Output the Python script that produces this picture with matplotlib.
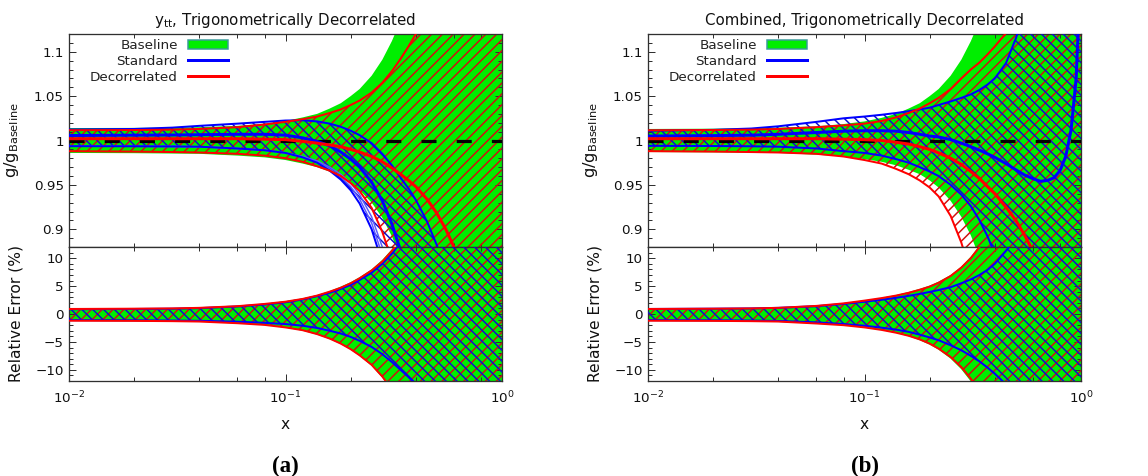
import matplotlib
matplotlib.use("Agg")
import matplotlib.pyplot as plt
from matplotlib.patches import Patch
from matplotlib.lines import Line2D
from matplotlib.ticker import LogLocator, MultipleLocator, FixedLocator, FixedFormatter, NullFormatter

DPI = 130
PX = 72.0 / DPI  # points per pixel

# ---------------- data ----------------
x = [0.01, 0.02, 0.03, 0.04, 0.06, 0.08, 0.1,
     0.12, 0.14, 0.16, 0.18, 0.2, 0.22, 0.25, 0.28, 0.31, 0.34, 0.37, 0.4,
     0.45, 0.5, 0.55, 0.6, 0.65, 0.7, 0.75, 0.8, 0.85, 0.9, 0.95, 1.0]

# ---- panel (a) top: g / g_Baseline ----
base_hi_a = [1.014, 1.0142, 1.0145, 1.015, 1.0165, 1.019, 1.022,
             1.026, 1.030, 1.036, 1.042, 1.05, 1.058, 1.073, 1.091, 1.112, 1.135, 1.16, 1.19,
             1.24, 1.3, 1.36, 1.42, 1.48, 1.54, 1.6, 1.66, 1.72, 1.78, 1.84, 1.9]
base_lo_a = [0.986, 0.9857, 0.9853, 0.985, 0.983, 0.981, 0.978,
             0.974, 0.97, 0.965, 0.959, 0.952, 0.944, 0.93, 0.913, 0.892, 0.868, 0.84, 0.81,
             0.76, 0.7, 0.64, 0.58, 0.52, 0.46, 0.4, 0.34, 0.28, 0.22, 0.16, 0.1]
dec_hi_a = [1.0116, 1.0118, 1.0122, 1.013, 1.015, 1.018, 1.021,
            1.024, 1.027, 1.031, 1.035, 1.04, 1.045, 1.054, 1.065, 1.078, 1.092, 1.106, 1.12,
            1.145, 1.17, 1.2, 1.23, 1.26, 1.29, 1.32, 1.35, 1.38, 1.41, 1.44, 1.47]
dec_c_a = [1.002, 1.002, 1.002, 1.002, 1.002, 1.0015, 1.001,
           0.999, 0.997, 0.995, 0.993, 0.99, 0.987, 0.982, 0.976, 0.969, 0.962, 0.955, 0.948,
           0.934, 0.918, 0.9, 0.88, 0.86, 0.84, 0.82, 0.8, 0.78, 0.76, 0.74, 0.72]
dec_lo_a = [0.988, 0.9875, 0.987, 0.9865, 0.985, 0.983, 0.98,
            0.976, 0.971, 0.966, 0.96, 0.952, 0.943, 0.924, 0.897, 0.865, 0.83, 0.79, 0.75,
            0.68, 0.61, 0.54, 0.47, 0.4, 0.33, 0.26, 0.19, 0.12, 0.05, -0.02, -0.09]
std_hi_a = [1.0124, 1.013, 1.0145, 1.0165, 1.019, 1.021, 1.0225,
            1.0228, 1.0215, 1.019, 1.0155, 1.011, 1.006, 0.997, 0.985, 0.972, 0.958, 0.946, 0.933,
            0.909, 0.882, 0.852, 0.82, 0.785, 0.75, 0.715, 0.68, 0.645, 0.61, 0.575, 0.54]
std_c_a = [1.0056, 1.006, 1.0062, 1.0065, 1.007, 1.007, 1.006,
           1.003, 0.999, 0.994, 0.987, 0.979, 0.97, 0.953, 0.932, 0.906, 0.876, 0.843, 0.81,
           0.75, 0.69, 0.63, 0.57, 0.51, 0.45, 0.39, 0.33, 0.27, 0.21, 0.15, 0.09]
std_lo_a = [0.9936, 0.9935, 0.9933, 0.993, 0.991, 0.989, 0.986,
            0.981, 0.975, 0.966, 0.956, 0.944, 0.929, 0.9, 0.862, 0.818, 0.77, 0.72, 0.67,
            0.59, 0.51, 0.43, 0.35, 0.27, 0.19, 0.11, 0.03, -0.05, -0.13, -0.21, -0.29]
std_m1_a = [0.9936, 0.9935, 0.9933, 0.993, 0.991, 0.989, 0.986,
            0.981, 0.976, 0.968, 0.959, 0.948, 0.934, 0.907, 0.871, 0.83, 0.785, 0.735, 0.685,
            0.6, 0.52, 0.44, 0.36, 0.28, 0.2, 0.12, 0.04, -0.04, -0.12, -0.2, -0.28]
std_m2_a = [0.9936, 0.9935, 0.9933, 0.993, 0.991, 0.989, 0.986,
            0.982, 0.977, 0.97, 0.962, 0.952, 0.939, 0.914, 0.88, 0.842, 0.8, 0.75, 0.7,
            0.61, 0.53, 0.45, 0.37, 0.29, 0.21, 0.13, 0.05, -0.03, -0.11, -0.19, -0.27]

# ---- panel (a) bottom: relative error (%) ----
base_ehi_a = [1.0, 1.0, 1.05, 1.15, 1.45, 1.85, 2.3,
              2.8, 3.4, 4.1, 4.9, 5.7, 6.6, 8.0, 9.7, 11.6, 13.6, 15.8, 18.0,
              22.0, 26.0, 30.0, 34.0, 38.0, 42.0, 46.0, 50.0, 54.0, 58.0, 62.0, 66.0]
dec_ehi_a = [0.9, 0.95, 1.0, 1.1, 1.4, 1.8, 2.2,
             2.7, 3.3, 4.0, 4.7, 5.5, 6.4, 7.8, 9.4, 11.3, 13.3, 15.5, 17.7,
             21.5, 25.5, 29.5, 33.5, 37.5, 41.5, 45.5, 49.5, 53.5, 57.5, 61.5, 65.5]
std_ehi_a = [0.85, 0.9, 0.95, 1.05, 1.35, 1.7, 2.1,
             2.6, 3.2, 3.8, 4.5, 5.2, 6.1, 7.4, 9.0, 10.8, 12.8, 15.0, 17.2,
             21.0, 25.0, 29.0, 33.0, 37.0, 41.0, 45.0, 49.0, 53.0, 57.0, 61.0, 65.0]
base_elo_a = [-1.25, -1.28, -1.32, -1.4, -1.7, -2.0, -2.45,
              -3.0, -3.7, -4.5, -5.4, -6.4, -7.5, -9.3, -11.4, -13.8, -16.4, -19.0, -22.0,
              -27.0, -32.0, -37.0, -42.0, -47.0, -52.0, -57.0, -62.0, -67.0, -72.0, -77.0, -82.0]
dec_elo_a = [-1.2, -1.23, -1.28, -1.35, -1.65, -1.95, -2.4,
             -2.9, -3.6, -4.4, -5.3, -6.3, -7.4, -9.1, -11.2, -13.5, -16.0, -18.7, -21.5,
             -26.5, -31.5, -36.5, -41.5, -46.5, -51.5, -56.5, -61.5, -66.5, -71.5, -76.5, -81.5]
std_elo_a = [-1.1, -1.13, -1.17, -1.22, -1.38, -1.58, -1.8,
             -2.1, -2.5, -3.0, -3.5, -4.1, -4.8, -5.9, -7.2, -8.6, -10.0, -11.3, -12.6,
             -15.0, -17.5, -20.0, -22.5, -25.0, -27.5, -30.0, -32.5, -35.0, -37.5, -40.0, -42.5]

# ---- panel (b) top ----
base_hi_b = [1.013, 1.0133, 1.0138, 1.0145, 1.016, 1.0185, 1.0215,
             1.0255, 1.03, 1.036, 1.042, 1.05, 1.058, 1.073, 1.091, 1.112, 1.135, 1.16, 1.19,
             1.24, 1.3, 1.36, 1.42, 1.48, 1.54, 1.6, 1.66, 1.72, 1.78, 1.84, 1.9]
base_lo_b = [0.987, 0.9867, 0.9863, 0.986, 0.984, 0.982, 0.979,
             0.976, 0.972, 0.967, 0.962, 0.955, 0.947, 0.932, 0.914, 0.893, 0.868, 0.84, 0.81,
             0.76, 0.7, 0.64, 0.58, 0.52, 0.46, 0.4, 0.34, 0.28, 0.22, 0.16, 0.1]
dec_hi_b = [1.0115, 1.0118, 1.0122, 1.013, 1.015, 1.017, 1.019,
            1.022, 1.026, 1.031, 1.036, 1.042, 1.048, 1.058, 1.07, 1.08, 1.088, 1.097, 1.106,
            1.121, 1.135, 1.15, 1.17, 1.19, 1.21, 1.23, 1.25, 1.27, 1.29, 1.31, 1.33]
dec_c_b = [1.002, 1.002, 1.002, 1.002, 1.002, 1.0015, 1.001,
           1.0, 0.998, 0.996, 0.993, 0.99, 0.986, 0.98, 0.973, 0.965, 0.957, 0.948, 0.94,
           0.925, 0.91, 0.893, 0.875, 0.857, 0.84, 0.82, 0.8, 0.78, 0.76, 0.74, 0.72]
dec_lo_b = [0.988, 0.9875, 0.987, 0.9865, 0.985, 0.982, 0.978,
            0.974, 0.968, 0.962, 0.955, 0.947, 0.937, 0.915, 0.885, 0.85, 0.81, 0.77, 0.73,
            0.66, 0.59, 0.52, 0.45, 0.38, 0.31, 0.24, 0.17, 0.1, 0.03, -0.04, -0.11]
std_hi_b = [1.011, 1.012, 1.0135, 1.016, 1.021, 1.025, 1.027,
            1.029, 1.031, 1.033, 1.035, 1.037, 1.04, 1.044, 1.048, 1.052, 1.057, 1.063, 1.07,
            1.087, 1.115, 1.145, 1.18, 1.21, 1.24, 1.27, 1.3, 1.33, 1.36, 1.39, 1.42]
std_c_b = [1.005, 1.0055, 1.006, 1.007, 1.009, 1.0105, 1.011,
           1.011, 1.0105, 1.009, 1.007, 1.005, 1.004, 1.001, 0.997, 0.993, 0.989, 0.985, 0.981,
           0.974, 0.967, 0.961, 0.957, 0.954, 0.955, 0.958, 0.966, 0.982, 1.012, 1.07, 1.2]
std_lo_b = [0.994, 0.9938, 0.9935, 0.993, 0.991, 0.988, 0.986,
            0.983, 0.979, 0.975, 0.97, 0.965, 0.96, 0.95, 0.939, 0.926, 0.91, 0.892, 0.872,
            0.835, 0.795, 0.75, 0.7, 0.65, 0.6, 0.55, 0.5, 0.45, 0.4, 0.35, 0.3]

# ---- panel (b) bottom ----
base_ehi_b = [1.0, 1.0, 1.05, 1.15, 1.5, 1.95, 2.45,
              2.9, 3.4, 3.95, 4.5, 5.1, 5.8, 7.0, 8.5, 10.3, 12.3, 14.5, 16.8,
              21.0, 25.0, 29.0, 33.0, 37.0, 41.0, 45.0, 49.0, 53.0, 57.0, 61.0, 65.0]
dec_ehi_b = [0.9, 0.95, 1.0, 1.1, 1.45, 1.9, 2.4,
             2.85, 3.3, 3.8, 4.35, 4.9, 5.6, 6.8, 8.3, 10.0, 12.0, 14.2, 16.5,
             20.5, 24.5, 28.5, 32.5, 36.5, 40.5, 44.5, 48.5, 52.5, 56.5, 60.5, 64.5]
std_ehi_b = [0.9, 0.95, 1.0, 1.1, 1.4, 1.8, 2.2,
             2.55, 2.9, 3.25, 3.6, 3.95, 4.3, 4.8, 5.5, 6.2, 7.0, 7.9, 9.0,
             11.3, 13.6, 16.0, 18.5, 21.0, 23.5, 26.0, 28.5, 31.0, 33.5, 36.0, 38.5]
base_elo_b = [-1.25, -1.28, -1.32, -1.4, -1.75, -2.05, -2.45,
              -2.9, -3.4, -4.0, -4.7, -5.5, -6.4, -8.0, -9.9, -12.1, -14.6, -17.3, -20.0,
              -25.0, -30.0, -35.0, -40.0, -45.0, -50.0, -55.0, -60.0, -65.0, -70.0, -75.0, -80.0]
dec_elo_b = [-1.2, -1.23, -1.28, -1.35, -1.7, -2.0, -2.4,
             -2.85, -3.35, -3.9, -4.55, -5.3, -6.2, -7.7, -9.5, -11.6, -14.0, -16.6, -19.3,
             -24.0, -29.0, -34.0, -39.0, -44.0, -49.0, -54.0, -59.0, -64.0, -69.0, -74.0, -79.0]
std_elo_b = [-1.1, -1.13, -1.17, -1.25, -1.5, -1.8, -2.1,
             -2.45, -2.8, -3.2, -3.7, -4.2, -4.7, -5.6, -6.5, -7.5, -8.5, -9.6, -10.7,
             -12.6, -14.6, -16.6, -18.6, -20.6, -22.6, -24.6, -26.6, -28.6, -30.6, -32.6, -34.6]

titles = [r"y$_{\mathrm{tt}}$, Trigonometrically Decorrelated",
          "Combined, Trigonometrically Decorrelated"]
panel_tags = ["(a)", "(b)"]
legend_labels = ["Baseline", "Standard", "Decorrelated"]
top_yticks = [0.9, 0.95, 1.0, 1.05, 1.1]
top_yticklabels = ["0.9", "0.95", "1", "1.05", "1.1"]
bot_yticks = [-10, -5, 0, 5, 10]
xticks = [0.01, 0.1, 1.0]
xticklabels = [r"$10^{-2}$", r"$10^{-1}$", r"$10^{0}$"]

# ---------------- style ----------------
GREEN = "#00ee00"
RED = "#ff0000"
BLUE = "#0000ff"
HATCH_RED = "#d01010"
HATCH_BLUE = "#1010c8"
TEAL = "#3a9a9a"
SPINE = "#303030"

plt.rcParams["font.family"] = ["DejaVu Sans"]
plt.rcParams["hatch.linewidth"] = 1.5 * PX
plt.rcParams["mathtext.default"] = "regular"

FS_TICK = 13.5 * PX
FS_TITLE = 15.0 * PX
FS_LABEL = 15.5 * PX
FS_LEG = 13.5 * PX

fig = plt.figure(figsize=(1148 / DPI, 476 / DPI), dpi=DPI)


def rect(left_px, top_px, bottom_px, width_px=433):
    return [left_px / 1148, 1 - bottom_px / 476, width_px / 1148, (bottom_px - top_px) / 476]


def style_axes(ax, bottom_labels):
    ax.set_xscale("log")
    ax.set_xlim(0.01, 1.0)
    ax.xaxis.set_major_locator(FixedLocator(xticks))
    ax.xaxis.set_minor_locator(LogLocator(base=10, subs=(2, 4, 6, 8)))
    ax.xaxis.set_minor_formatter(NullFormatter())
    if bottom_labels:
        ax.xaxis.set_major_formatter(FixedFormatter(xticklabels))
    ax.tick_params(which="both", direction="in", top=True, right=True,
                   color=SPINE, width=1.0 * PX, labelsize=FS_TICK,
                   labelbottom=bottom_labels, labelcolor="#111111")
    ax.tick_params(which="major", length=7 * PX, pad=5 * PX)
    ax.tick_params(which="minor", length=4 * PX)
    ax.tick_params(axis="x", which="major", pad=9 * PX)
    for s in ax.spines.values():
        s.set_color(SPINE)
        s.set_linewidth(1.3 * PX)


EDGE_W = 2.0 * PX
CEN_W = 3.0 * PX
HATCH_R = "////"
HATCH_B = "\\\\\\\\"

panels = [
    dict(left=69,
         top=(base_lo_a, base_hi_a, dec_lo_a, dec_c_a, dec_hi_a, std_lo_a, std_c_a, std_hi_a),
         extra=(std_m1_a, std_m2_a),
         bot=(base_elo_a, base_ehi_a, dec_elo_a, dec_ehi_a, std_elo_a, std_ehi_a)),
    dict(left=648,
         top=(base_lo_b, base_hi_b, dec_lo_b, dec_c_b, dec_hi_b, std_lo_b, std_c_b, std_hi_b),
         extra=(),
         bot=(base_elo_b, base_ehi_b, dec_elo_b, dec_ehi_b, std_elo_b, std_ehi_b)),
]

for i, p in enumerate(panels):
    axt = fig.add_axes(rect(p["left"], 34, 247))
    axb = fig.add_axes(rect(p["left"], 247, 381))

    g_lo, g_hi, r_lo, r_c, r_hi, b_lo, b_c, b_hi = p["top"]
    axt.fill_between(x, g_lo, g_hi, color=GREEN, lw=0, zorder=1)
    axt.fill_between(x, r_lo, r_hi, facecolor="none", edgecolor=HATCH_RED, hatch=HATCH_R, lw=0, zorder=2)
    axt.fill_between(x, b_lo, b_hi, facecolor="none", edgecolor=HATCH_BLUE, hatch=HATCH_B, lw=0, zorder=3)
    axt.axhline(1.0, color="black", lw=3.2 * PX, ls=(0, (4.7, 6.3)), zorder=4)
    for e in p["extra"]:
        axt.plot(x, e, color="#5a5aff", lw=1.5 * PX, zorder=5)
    axt.plot(x, b_hi, color=BLUE, lw=EDGE_W, zorder=5)
    axt.plot(x, b_lo, color=BLUE, lw=EDGE_W, zorder=5)
    axt.plot(x, b_c, color=BLUE, lw=CEN_W, zorder=5)
    axt.plot(x, r_hi, color=RED, lw=EDGE_W, zorder=6)
    axt.plot(x, r_lo, color=RED, lw=EDGE_W, zorder=6)
    axt.plot(x, r_c, color=RED, lw=CEN_W, zorder=6)
    axt.set_ylim(0.88, 1.12)
    axt.yaxis.set_major_locator(FixedLocator(top_yticks))
    axt.yaxis.set_major_formatter(FixedFormatter(top_yticklabels))
    axt.yaxis.set_minor_locator(MultipleLocator(0.01))
    style_axes(axt, False)
    axt.set_ylabel(r"g/g$_{\mathrm{Baseline}}$", fontsize=FS_LABEL * 1.05, color="#111111")
    axt.yaxis.set_label_coords(-0.112, 0.5)

    handles = [Patch(facecolor=GREEN, edgecolor=TEAL, lw=1.5 * PX),
               Line2D([], [], color=BLUE, lw=3.0 * PX),
               Line2D([], [], color=RED, lw=3.0 * PX)]
    axt.legend(handles, legend_labels, loc="upper right", bbox_to_anchor=(0.367, 0.975),
               frameon=False, markerfirst=False, fontsize=FS_LEG, borderpad=0,
               borderaxespad=0, handlelength=2.95, handleheight=0.72,
               handletextpad=0.75, labelspacing=0.2, labelcolor="#222222")

    ge_lo, ge_hi, re_lo, re_hi, be_lo, be_hi = p["bot"]
    axb.fill_between(x, ge_lo, ge_hi, color=GREEN, lw=0, zorder=1)
    axb.fill_between(x, re_lo, re_hi, facecolor="none", edgecolor=HATCH_RED, hatch=HATCH_R, lw=0, zorder=2)
    axb.fill_between(x, be_lo, be_hi, facecolor="none", edgecolor=HATCH_BLUE, hatch=HATCH_B, lw=0, zorder=3)
    axb.plot(x, be_hi, color=BLUE, lw=EDGE_W, zorder=5)
    axb.plot(x, be_lo, color=BLUE, lw=EDGE_W, zorder=5)
    axb.plot(x, re_hi, color=RED, lw=EDGE_W, zorder=6)
    axb.plot(x, re_lo, color=RED, lw=EDGE_W, zorder=6)
    axb.set_ylim(-12, 12)
    axb.yaxis.set_major_locator(FixedLocator(bot_yticks))
    axb.yaxis.set_minor_locator(MultipleLocator(1))
    style_axes(axb, True)
    axb.set_ylabel("Relative Error (%)", fontsize=FS_LABEL, color="#111111")
    axb.yaxis.set_label_coords(-0.104, 0.5)
    axb.set_xlabel("x", fontsize=FS_LABEL, color="#111111")
    axb.xaxis.set_label_coords(0.5, -0.27)

    pos = axt.get_position()
    cx = pos.x0 + pos.width / 2
    fig.text(cx, 1 - 20 / 476, titles[i], ha="center", va="center",
             fontsize=FS_TITLE, color="#111111")
    fig.text(cx, 1 - 466 / 476, panel_tags[i], ha="center", va="center",
             fontsize=23 * PX, fontweight="bold", family="Liberation Serif")

fig.savefig("out.png", dpi=DPI)
